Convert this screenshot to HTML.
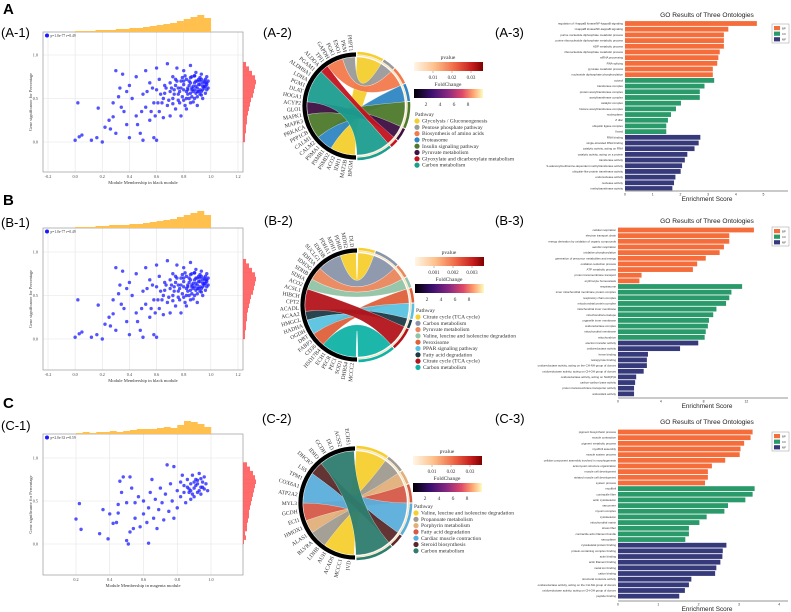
<!DOCTYPE html>
<html><head><meta charset="utf-8"><style>
html,body{margin:0;padding:0;background:#fff;}
svg{display:block;}
text{font-family:"Liberation Sans",sans-serif;}
.serif{font-family:"Liberation Serif",serif;}
</style></head><body>
<svg id="fig" width="791" height="612" viewBox="0 0 791 612" xmlns="http://www.w3.org/2000/svg">
<defs>
<linearGradient id="pvalGrad" x1="0" x2="1" y1="0" y2="0">
<stop offset="0" stop-color="#fff6e8"/><stop offset="0.3" stop-color="#fdc08a"/><stop offset="0.6" stop-color="#ee6545"/><stop offset="0.85" stop-color="#c41b1b"/><stop offset="1" stop-color="#7f0000"/>
</linearGradient>
<linearGradient id="fcGrad" x1="0" x2="1" y1="0" y2="0">
<stop offset="0" stop-color="#000004"/><stop offset="0.25" stop-color="#3b0f70"/><stop offset="0.5" stop-color="#8c2981"/><stop offset="0.7" stop-color="#de4968"/><stop offset="0.85" stop-color="#fe9f6d"/><stop offset="1" stop-color="#fcfdbf"/>
</linearGradient>
</defs>
</svg>
<script>
// ---------- DATA ----------
const scatterABx=[0.02,0.00,0.03,0.05,0.12,0.17,0.16,0.20,0.22,0.25,0.28,0.30,0.32,0.33,0.30,0.35,0.28,0.36,0.38,0.40,0.42,0.40,0.45,0.45,0.48,0.50,0.50,0.52,0.52,0.55,0.55,0.58,0.58,0.60,0.60,0.60,0.62,0.62,0.65,0.65,0.66,0.68,0.68,0.70,0.70,0.72,0.72,0.74,0.74,0.75,0.76,0.77,0.78,0.78,0.80,0.80,0.80,0.82,0.82,0.83,0.84,0.85,0.85,0.86,0.87,0.88,0.88,0.89,0.90,0.90,0.91,0.92,0.92,0.93,0.94,0.94,0.95,0.96,0.96,0.97,0.97,0.98,0.86,0.84,0.90,0.88,0.92,0.80,0.76,0.94,0.82,0.86,0.70,0.66,0.90,0.96,0.87,0.93,0.91,0.85,0.89,0.95,0.83,0.79,0.73,0.97,0.88,0.92,0.64,0.56,0.46,0.38,0.34,0.26,
0.71,0.73,0.75,0.77,0.79,0.81,0.83,0.85,0.87,0.89,0.91,0.93,0.95,0.97,0.72,0.74,0.76,0.78,0.80,0.82,0.84,0.86,0.88,0.90,0.92,0.94,0.96,0.98,0.81,0.85,0.89,0.93,0.69,0.67,0.63,0.61,0.59,0.57,0.53,0.49];
const scatterABy=[0.45,0.02,0.06,0.08,0.02,0.39,0.05,0.00,0.17,0.25,0.29,0.10,0.52,0.62,0.82,0.78,0.45,0.35,0.20,0.05,0.50,0.65,0.30,0.75,0.10,0.02,0.55,0.82,0.40,0.25,0.68,0.05,0.45,0.02,0.85,0.60,0.35,0.72,0.50,0.28,0.65,0.90,0.42,0.58,0.30,0.75,0.50,0.65,0.38,0.85,0.55,0.45,0.70,0.30,0.60,0.82,0.48,0.72,0.38,0.55,0.65,0.88,0.45,0.75,0.58,0.68,0.50,0.80,0.62,0.42,0.72,0.55,0.66,0.78,0.60,0.50,0.70,0.64,0.56,0.75,0.68,0.62,0.62,0.70,0.70,0.60,0.60,0.66,0.62,0.68,0.50,0.52,0.68,0.56,0.52,0.72,0.64,0.58,0.66,0.74,0.56,0.62,0.60,0.74,0.60,0.66,0.76,0.70,0.45,0.35,0.20,0.58,0.40,0.15,
0.62,0.55,0.70,0.58,0.52,0.76,0.62,0.68,0.46,0.64,0.58,0.72,0.64,0.60,0.44,0.72,0.48,0.62,0.70,0.58,0.50,0.60,0.76,0.58,0.74,0.64,0.68,0.70,0.42,0.56,0.70,0.54,0.48,0.62,0.55,0.45,0.30,0.62,0.58,0.35];
const scatterCx=[0.20,0.22,0.23,0.34,0.36,0.39,0.40,0.42,0.44,0.45,0.45,0.46,0.47,0.48,0.50,0.50,0.51,0.52,0.52,0.53,0.54,0.55,0.55,0.57,0.58,0.60,0.60,0.62,0.63,0.63,0.64,0.65,0.66,0.67,0.68,0.69,0.70,0.71,0.72,0.73,0.74,0.75,0.76,0.77,0.78,0.78,0.80,0.80,0.82,0.83,0.84,0.85,0.86,0.87,0.88,0.88,0.89,0.90,0.90,0.91,0.92,0.92,0.93,0.94,0.94,0.95,0.96,0.97,0.98,0.86,0.90,0.94,0.88,0.84,0.82,0.96,0.91,0.93,0.89,0.87,0.95,0.92];
const scatterCy=[0.29,0.47,0.17,0.12,0.40,0.06,0.35,0.24,0.25,0.36,0.46,0.73,0.60,0.78,0.48,0.04,0.00,0.78,0.14,0.65,0.18,0.30,0.48,0.55,0.20,0.35,0.50,0.25,0.01,0.42,0.60,0.75,0.30,0.52,0.18,0.40,0.65,0.48,0.28,0.58,0.92,0.38,0.70,0.50,0.90,0.30,0.62,0.42,0.55,0.80,0.68,0.48,0.75,0.60,0.52,0.70,0.80,0.65,0.55,0.75,0.60,0.70,0.82,0.66,0.58,0.72,0.64,0.70,0.62,0.66,0.72,0.76,0.62,0.60,0.72,0.78,0.68,0.62,0.58,0.64,0.66,0.74];
const histTopA=[1,1,1,2,2,2,3,3,4,4,5,6,7,8,9,11,13,15,17,14];
const histRightA=[2,2,3,3,4,4,5,6,7,8,10,11,12,13,12,9,6,3];
const histTopB=[1,1,1,2,2,3,3,3,4,4,5,6,7,8,9,11,13,15,17,13];
const histRightB=[2,2,3,3,4,4,5,6,7,8,10,11,12,13,12,9,6,3];
const histTopC=[1,2,1,2,2,3,2,3,4,5,5,5,6,7,6,9,13,12,10,7];
const histRightC=[1,3,2,4,4,5,6,6,7,8,9,10,11,12,13,12,10,7,4];

const goLabelsA=["regulation of I-kappaB kinase/NF-kappaB signaling","I-kappaB kinase/NF-kappaB signaling","purine nucleotide diphosphate metabolic process","purine ribonucleotide diphosphate metabolic process","ADP metabolic process","ribonucleotide diphosphate metabolic process","mRNA processing","RNA splicing","pyruvate metabolic process","nucleoside diphosphate phosphorylation","cytosol","transferase complex","protein acetyltransferase complex","acetyltransferase complex","catalytic complex","histone acetyltransferase complex","nucleoplasm","Z disc","ubiquitin ligase complex","I band","RNA binding","single-stranded RNA binding","catalytic activity, acting on RNA","catalytic activity, acting on a protein","transferase activity","S-adenosylmethionine-dependent methyltransferase activity","ubiquitin-like protein transferase activity","endonuclease activity","nuclease activity","methyltransferase activity"];
const goValuesA=[4.76,3.73,3.57,3.57,3.57,3.42,3.37,3.33,3.17,3.17,3.22,2.87,2.70,2.70,2.02,1.84,1.66,1.55,1.49,1.49,2.72,2.66,2.51,2.25,2.16,2.06,2.01,1.82,1.77,1.71];
const goLabelsB=["cellular respiration","electron transport chain","energy derivation by oxidation of organic compounds","aerobic respiration","oxidative phosphorylation","generation of precursor metabolites and energy","oxidation-reduction process","ATP metabolic process","proton transmembrane transport","erythrocyte homeostasis","respirasome","inner mitochondrial membrane protein complex","respiratory chain complex","mitochondrial protein complex","mitochondrial inner membrane","mitochondrial envelope","organelle inner membrane","oxidoreductase complex","mitochondrial membrane","mitochondrion","electron transfer activity","oxidoreductase activity","heme binding","tetrapyrrole binding","oxidoreductase activity, acting on the CH-NH group of donors","oxidoreductase activity, acting on CH-OH group of donors","oxidoreductase activity, acting on NAD(P)H","carbon-carbon lyase activity","proton transmembrane transporter activity","antioxidant activity"];
const goValuesB=[12.7,10.4,10.4,9.9,9.5,8.2,7.4,7.0,2.2,2.0,11.6,10.6,10.4,10.1,9.2,8.9,8.5,8.4,8.2,8.1,7.5,5.8,2.8,2.7,2.7,2.4,1.7,1.6,1.5,1.5];
const goLabelsC=["pigment biosynthetic process","muscle contraction","pigment metabolic process","myofibril assembly","muscle system process","cellular component assembly involved in morphogenesis","actomyosin structure organization","muscle cell development","striated muscle cell development","system process","myofibril","contractile fiber","actin cytoskeleton","sarcomere","myosin complex","cytoskeleton","mitochondrial matrix","stress fiber","contractile actin filament bundle","sarcoplasm","cytoskeletal protein binding","protein-containing complex binding","actin binding","actin filament binding","metal ion binding","cation binding","structural molecule activity","oxidoreductase activity, acting on the CH-NH group of donors","oxidoreductase activity, acting on CH-OH group of donors","peptide binding"];
const goValuesC=[3.34,3.29,3.13,3.04,3.02,2.66,2.33,2.23,2.23,2.16,3.39,3.34,3.16,2.73,2.64,2.20,2.02,1.76,1.76,1.67,2.69,2.60,2.59,2.54,2.44,2.41,1.82,1.76,1.66,1.52];
const goGroups=["BP","BP","BP","BP","BP","BP","BP","BP","BP","BP","CC","CC","CC","CC","CC","CC","CC","CC","CC","CC","MF","MF","MF","MF","MF","MF","MF","MF","MF","MF"];
const goTicksA=[0,1,2,3,4,5];
const goTicksB=[0,4,8,12];
const goTicksC=[0,1,2,3,4];

const pathA=["Glycolysis / Gluconeogenesis","Pentose phosphate pathway","Biosynthesis of amino acids","Proteasome","Insulin signaling pathway","Pyruvate metabolism","Glyoxylate and dicarboxylate metabolism","Carbon metabolism"];
const pathSizesA=[30,15,20,20,30,15,10,40];
const pathLeftOrderA=[0,3,4,5,7,6,2,1];
const genesA=["PHPT1","PKM","ENO1","PGK1","GAPDH","TPI1","ALDOA","PGAM1","ALDH9A1","LDHA","PGM1","DLAT","HOGA1","ACYP2","GLO1","MAPK1","MAPK3","PRKACA","PPP1CB","CALM1","CALM2","PSMA1","PSMB1","PSMD2","ACO2","IDH1","MAT2B","BPGM"];
const pathB=["Citrate cycle (TCA cycle)","Carbon metabolism","Pyruvate metabolism","Valine, leucine and isoleucine degradation","Peroxisome","PPAR signaling pathway","Fatty acid degradation","Citrate cycle (TCA cycle)","Carbon metabolism"];
const pathSizesB=[18,27,15,12,16,17,10,25,40];
const pathLeftOrderB=[8,4,5,6,7,3,2,1,0];
const genesB=["DLD","MDH2","PDHB","MDH1","PDHA1","IDH3B","SUCLG1","IDH3A","IDH3G","SDHB","SDHA","ACO2","ACSL1","HIBCH","CPT2","ACADL","ACAA2","HMGCL","HADHA","OGDH","DBT","FABP3","CD36","HSD17B4","ECH1","PECR","PECI","SOD1","DHRS4","MCCC2"];
const pathC=["Valine, leucine and isoleucine degradation","Propanoate metabolism","Porphyrin metabolism","Fatty acid degradation","Cardiac muscle contraction","Steroid biosynthesis","Carbon metabolism"];
const pathSizesC=[35,20,15,20,35,15,40];
const pathLeftOrderC=[0,1,2,3,4,5,6];
const genesC=["ECHS1","ACSS2","DLD","GCDH","IDH3","DHCR7","LSS","TPM1","COX6A1","ATP2A2","MYL3","GCDH","ECI1","HMOX1","ALAS1","BLVRA","LDHB","AUH","ACADS","MCCC1","IVD"];

// ---------- HELPERS ----------
const NS='http://www.w3.org/2000/svg';
const svg=document.getElementById('fig');
function mk(tag,attrs,parent){const e=document.createElementNS(NS,tag);for(const k in attrs)e.setAttribute(k,attrs[k]);(parent||svg).appendChild(e);return e;}
function txt(x,y,s,attrs,parent){const e=mk('text',Object.assign({x:x,y:y},attrs),parent);e.textContent=s;return e;}

[["A",3,14],["B",3,205],["C",3,408]].forEach(function(p){
  const t=txt(p[1],p[2],p[0],{'font-size':15,'font-weight':'bold'});
  
  
});
[["(A-1)",1,37],["(A-2)",263,37],["(A-3)",495,37],["(B-1)",1,227],["(B-2)",264,225],["(B-3)",495,225],["(C-1)",1,430],["(C-2)",262,423],["(C-3)",495,423]].forEach(function(p){
  const t=txt(p[1],p[2],p[0],{'font-size':13});
  
  
});

// ---------- SCATTER ----------
function drawScatter(c,xs,ys,hTop,hRight,name){
  const g=mk('g',{});
  
  
  const X=function(v){return c.px0+(v-c.v0)*c.kx;};
  const Y=function(v){return c.py0-v*c.ky;};
  c.xticks.forEach(function(v){
    const l=mk('line',{x1:X(v),x2:X(v),y1:c.y0,y2:c.y0+c.h,stroke:'#e4e4e4','stroke-width':0.6},g);
    
    
    const t=txt(X(v),c.y0+c.h+6,v.toFixed(1),{'font-size':4.2,'text-anchor':'middle',fill:'#444',class:'serif'},g);
    
    
  });
  [0,0.5,1.0].forEach(function(v){
    const l=mk('line',{x1:c.x0,x2:c.x0+c.w,y1:Y(v),y2:Y(v),stroke:'#e4e4e4','stroke-width':0.6},g);
    
    
    const t=txt(c.x0-5,Y(v)+1.5,v.toFixed(1),{'font-size':4.2,'text-anchor':'end',fill:'#444',class:'serif'},g);
    
    
  });
  const fr=mk('rect',{x:c.x0,y:c.y0,width:c.w,height:c.h,fill:'none',stroke:'#999','stroke-width':0.7},g);
  
  
  const bw=(X(c.hx1)-X(c.hx0))/hTop.length;
  hTop.forEach(function(v,i){
    const h=v*c.hk;
    const r=mk('rect',{x:X(c.hx0)+i*bw,y:c.y0-h,width:bw+0.2,height:h,fill:'#ffc04d'},g);
    
    
  });
  const bh=(Y(c.hy0)-Y(c.hy1))/hRight.length;
  hRight.forEach(function(v,i){
    const w=v*c.hk;
    const r=mk('rect',{x:c.x0+c.w,y:Y(c.hy0)-(i+1)*bh,width:w,height:bh+0.2,fill:'#ff5a5a',opacity:0.9},g);
    
    
  });
  xs.forEach(function(v,i){
    const p=mk('circle',{cx:X(v),cy:Y(ys[i]),r:1.7,fill:'#1a1aff',opacity:0.75},g);
    
    
  });
  const ld=mk('circle',{cx:c.x0+4,cy:c.y0+3.5,r:2,fill:'#1a1aff'},g);
  
  
  const lt=txt(c.x0+7.5,c.y0+4.8,c.legend,{'font-size':3.6,class:'serif',fill:'#333'},g);
  
  
  const xt=txt(c.x0+c.w/2,c.y0+c.h+12,c.xlabel,{'font-size':4.6,'text-anchor':'middle',class:'serif',fill:'#333'},g);
  
  
  const cy=c.y0+c.h/2;
  const yt=txt(32,cy,'Gene significance for Percentage',{'font-size':4.4,'text-anchor':'middle',class:'serif',fill:'#333',transform:'rotate(-90 32 '+cy+')'},g);
  
  
}
const ticksAB=[-0.2,0,0.2,0.4,0.6,0.8,1.0,1.2];
drawScatter({x0:43,y0:32,w:200,h:140,v0:-0.2,px0:48,kx:135.7,py0:142,ky:87,xticks:ticksAB,hx0:0,hx1:1.0,hy0:0,hy1:0.92,hk:1.0,legend:'p=1.0e-77 r=0.49',xlabel:'Module Membership in black module'},scatterABx,scatterABy,histTopA,histRightA,'scatter-a1');
drawScatter({x0:43,y0:228,w:200,h:142,v0:-0.2,px0:48,kx:135.7,py0:339,ky:87,xticks:ticksAB,hx0:0,hx1:1.0,hy0:0,hy1:0.92,hk:1.0,legend:'p=1.0e-77 r=0.49',xlabel:'Module Membership in black module'},scatterABx,scatterABy,histTopB,histRightB,'scatter-b1');
drawScatter({x0:43,y0:434,w:200,h:141,v0:0.2,px0:76,kx:168.75,py0:544,ky:86,xticks:[0.2,0.4,0.6,0.8,1.0],hx0:0.2,hx1:1.0,hy0:0,hy1:0.95,hk:1.0,legend:'p=2.0e-33 r=0.59',xlabel:'Module Membership in magenta module'},scatterCx,scatterCy,histTopC,histRightC,'scatter-c1');

// ---------- CHORD ----------
function pt(cx,cy,r,a){const t=a*Math.PI/180;return [cx+r*Math.sin(t),cy-r*Math.cos(t)];}
function drawChord(c,paths,sizes,leftOrder,genes,colors,ptick,name){
  const g=mk('g',{});
  
  
  const cx=c.cx,cy=c.cy,r=c.r;
  const tot=sizes.reduce(function(a,b){return a+b;},0);
  const rA=[],lA=[];
  let a=1;
  sizes.forEach(function(s,i){const a2=a+s/tot*178;rA[i]=[a,a2];a=a2;});
  let b=181;
  leftOrder.forEach(function(i){const b2=b+sizes[i]/tot*178;lA[i]=[b,b2];b=b2;});
  sizes.forEach(function(s,i){
    const p1=pt(cx,cy,r,rA[i][0]),p2=pt(cx,cy,r,rA[i][1]),q1=pt(cx,cy,r,lA[i][0]),q2=pt(cx,cy,r,lA[i][1]);
    const d='M'+p1+' A'+r+' '+r+' 0 0 1 '+p2+' Q'+cx+' '+cy+' '+q1+' A'+r+' '+r+' 0 0 1 '+q2+' Q'+cx+' '+cy+' '+p1+'Z';
    const rib=mk('path',{d:d,fill:colors[i],opacity:0.95,stroke:'#fff','stroke-width':0.3},g);
    
    
    const o1=pt(cx,cy,r+4,rA[i][0]+0.5),o2=pt(cx,cy,r+4,rA[i][1]-0.5);
    const arc=mk('path',{d:'M'+o1+' A'+(r+4)+' '+(r+4)+' 0 0 1 '+o2,fill:'none',stroke:colors[i],'stroke-width':2.6},g);
    
    
  });
  const c1=pt(cx,cy,r+1.6,1),c2=pt(cx,cy,r+1.6,179);
  const cream=mk('path',{d:'M'+c1+' A'+(r+1.6)+' '+(r+1.6)+' 0 0 1 '+c2,fill:'none',stroke:'#f6e3bd','stroke-width':1.2},g);
  
  
  const k1=pt(cx,cy,r+2.5,180),k2=pt(cx,cy,r+2.5,360);
  const blk=mk('path',{d:'M'+k1+' A'+(r+2.5)+' '+(r+2.5)+' 0 0 1 '+k2,fill:'none',stroke:'#000','stroke-width':4.2},g);
  
  
  genes.forEach(function(gn,i){
    const ang=358-(i+0.5)*(176/genes.length);
    const p=pt(cx,cy,r+6,ang);
    const t=txt(p[0],p[1]+1.8,gn,{'font-size':5.6,'text-anchor':'end',class:'serif',fill:'#333',transform:'rotate('+(ang-270)+' '+p[0]+' '+p[1]+')'},g);
    
    
  });
  const lx=c.lx,ly=c.ly;
  const t1=txt(lx+34,ly-3,'pvalue',{'font-size':5.5,'text-anchor':'middle',class:'serif',fill:'#333'},g);
  
  
  const pb=mk('rect',{x:lx,y:ly,width:69,height:9,fill:'url(#pvalGrad)'},g);
  
  
  ptick.forEach(function(s,i){
    const tx=lx+19+i*19;
    const t=txt(tx,ly+17,s,{'font-size':5,'text-anchor':'middle',class:'serif',fill:'#333'},g);
    
    
    mk('line',{x1:tx,x2:tx,y1:ly+9,y2:ly+11,stroke:'#555','stroke-width':0.4},g);
  });
  const t2=txt(lx+34,ly+24,'FoldChange',{'font-size':5.5,'text-anchor':'middle',class:'serif',fill:'#333'},g);
  
  
  const fb=mk('rect',{x:lx,y:ly+27,width:69,height:9,fill:'url(#fcGrad)'},g);
  
  
  ["2","4","6","8"].forEach(function(s,i){
    const tx=lx+12+i*14;
    const t=txt(tx,ly+44,s,{'font-size':5.5,'text-anchor':'middle',class:'serif',fill:'#333'},g);
    
    
  });
  const pt0=ly+c.pathOff;
  const t3=txt(lx+1,pt0,'Pathway',{'font-size':5.5,class:'serif',fill:'#333'},g);
  
  
  paths.forEach(function(p,i){
    const yy=pt0+6.6+i*6.3;
    const d=mk('circle',{cx:lx+3,cy:yy-1.6,r:2.6,fill:colors[i]},g);
    
    
    const t=txt(lx+8,yy,p,{'font-size':5.5,class:'serif',fill:'#333'},g);
    
    
  });
}
drawChord({cx:356,cy:106,r:49,lx:414,ly:62,pathOff:54},pathA,pathSizesA,pathLeftOrderA,genesA,["#f5cf2f","#9a9a9a","#f47a4c","#2f86c4","#4f7a2d","#3e1044","#c3141f","#1c9e90"],["0.01","0.02","0.03"],'chord-a2');
drawChord({cx:357,cy:305,r:52,lx:415,ly:257,pathOff:55},pathB,pathSizesB,pathLeftOrderB,genesB,["#f7cf2f","#8a95ab","#ea875c","#93c4a7","#e0603a","#5ac2e0","#1d3a46","#b3151b","#10b3a6"],["0.001","0.002","0.003"],'chord-b2');
drawChord({cx:355,cy:503,r:52,lx:413,ly:456,pathOff:52},pathC,pathSizesC,pathLeftOrderC,genesC,["#f6cf2f","#a19b91","#e2b07b","#d65a48","#5aaedc","#5a2a2a","#2e7d6e"],["0.01","0.02","0.03"],'chord-c2');

// ---------- GO BAR CHARTS ----------
const goColors={BP:'#f46d3a',CC:'#2a9a6a',MF:'#363a7a'};
function drawGO(c,labels,values,ticks,name){
  const g=mk('g',{});
  
  
  const X=function(v){return c.x0+v*c.unit;};
  const tt=txt(707,c.titleY,'GO Results of Three Ontologies',{'font-size':6.6,'text-anchor':'middle',fill:'#222'},g);
  
  
  values.forEach(function(v,i){
    const yc=c.yFirst+i*c.step;
    const r=mk('rect',{x:X(0),y:yc-2.4,width:X(v)-X(0),height:4.8,fill:goColors[goGroups[i]]},g);
    
    
    const t=txt(c.x0-2,yc+1,labels[i],{'font-size':2.9,'text-anchor':'end',fill:'#333'},g);
    
    
  });
  const ax=mk('line',{x1:c.x0,x2:788,y1:c.axisY,y2:c.axisY,stroke:'#aaa','stroke-width':1.2},g);
  
  
  ticks.forEach(function(v){
    const t=txt(X(v),c.axisY+4.5,String(v),{'font-size':3.4,'text-anchor':'middle',fill:'#333'},g);
    
    
  });
  const xl=txt(707,c.axisY+10,'Enrichment Score',{'font-size':6.4,'text-anchor':'middle',fill:'#222'},g);
  
  
  const lb=mk('rect',{x:772,y:c.legY,width:17,height:19,fill:'#fff',stroke:'#999','stroke-width':0.5},g);
  
  
  ["BP","CC","MF"].forEach(function(k,i){
    const s=mk('rect',{x:774,y:c.legY+2+i*5.6,width:6,height:4.2,fill:goColors[k]},g);
    
    
    const t=txt(782,c.legY+5.3+i*5.6,k,{'font-size':2.8,fill:'#333'},g);
    
    
  });
}
drawGO({x0:625,unit:27.7,yFirst:23.5,step:5.69,axisY:191,titleY:17,legY:24},goLabelsA,goValuesA,goTicksA,'go-bar-chart-a3');
drawGO({x0:618,unit:10.7,yFirst:230,step:5.65,axisY:398,titleY:223,legY:227},goLabelsB,goValuesB,goTicksB,'go-bar-chart-b3');
drawGO({x0:618,unit:40.3,yFirst:432,step:5.66,axisY:601,titleY:424,legY:432},goLabelsC,goValuesC,goTicksC,'go-bar-chart-c3');
</script>
</body></html>
